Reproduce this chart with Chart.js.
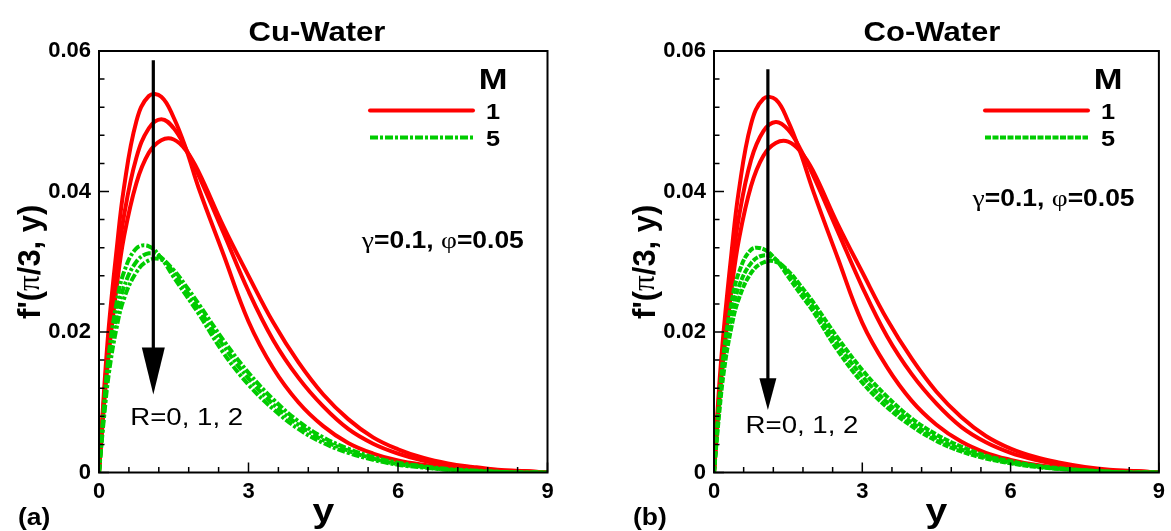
<!DOCTYPE html>
<html>
<head>
<meta charset="utf-8">
<script src="https://cdn.jsdelivr.net/npm/chart.js@4.4.0/dist/chart.umd.min.js"></script>
<style>
  body { margin: 0; background: #fff; width: 1171px; height: 531px; position: relative; overflow: hidden; }
  canvas { position: absolute; top: 0; }
</style>
</head>
<body>
<canvas id="cuChart" width="580" height="531" style="left:0"></canvas>
<canvas id="coChart" width="556" height="531" style="left:615px"></canvas>
<script>
// y positions shared by every curve
var yGrid = [0, 0.1, 0.2, 0.35, 0.5, 0.75, 1, 1.25, 1.5, 1.75, 2, 2.5, 3, 3.5, 4, 4.5, 5, 5.5, 6, 6.5, 7, 7.5, 8, 8.5, 9];

// Cu-water, M = 1 (R = 0, 1, 2)
var cuM1R0 = [0, 0.0115, 0.0210, 0.0315, 0.0405, 0.0500, 0.0536, 0.0535, 0.0505, 0.0460, 0.0405, 0.0310, 0.0215, 0.0148, 0.0100, 0.0066, 0.0042, 0.0027, 0.0017, 0.0011, 0.0007, 0.0004, 0.0002, 0.0001, 0];
var cuM1R1 = [0, 0.0105, 0.0190, 0.0285, 0.0365, 0.0448, 0.0490, 0.0503, 0.0490, 0.0460, 0.0423, 0.0341, 0.0258, 0.0188, 0.0135, 0.0094, 0.0062, 0.0041, 0.0027, 0.0017, 0.0010, 0.0006, 0.0003, 0.0002, 0];
var cuM1R2 = [0, 0.0095, 0.0172, 0.0262, 0.0335, 0.0412, 0.0455, 0.0473, 0.0474, 0.0458, 0.0428, 0.0350, 0.0280, 0.0213, 0.0157, 0.0111, 0.0076, 0.0050, 0.0033, 0.0021, 0.0013, 0.0008, 0.0004, 0.0002, 0];
// Cu-water, M = 5
var cuM5R0 = [0, 0.0095, 0.0170, 0.0240, 0.0285, 0.0319, 0.0322, 0.0305, 0.0278, 0.0252, 0.0226, 0.0170, 0.0125, 0.0090, 0.0062, 0.0042, 0.0028, 0.0018, 0.0011, 0.0007, 0.0004, 0.0002, 0.0001, 0, 0];
var cuM5R1 = [0, 0.0085, 0.0155, 0.0222, 0.0264, 0.0300, 0.0312, 0.0306, 0.0284, 0.0259, 0.0233, 0.0180, 0.0134, 0.0097, 0.0068, 0.0046, 0.0031, 0.0020, 0.0012, 0.0008, 0.0004, 0.0002, 0.0001, 0, 0];
var cuM5R2 = [0, 0.0078, 0.0142, 0.0205, 0.0247, 0.0285, 0.0302, 0.0303, 0.0288, 0.0265, 0.0240, 0.0188, 0.0142, 0.0104, 0.0073, 0.0050, 0.0034, 0.0022, 0.0014, 0.0009, 0.0005, 0.0003, 0.0001, 0, 0];

// Co-water, M = 1
var coM1R0 = [0, 0.0118, 0.0205, 0.0310, 0.0400, 0.0496, 0.0532, 0.0531, 0.0500, 0.0455, 0.0402, 0.0306, 0.0213, 0.0150, 0.0102, 0.0068, 0.0044, 0.0028, 0.0018, 0.0011, 0.0007, 0.0004, 0.0002, 0.0001, 0];
var coM1R1 = [0, 0.0106, 0.0188, 0.0282, 0.0362, 0.0445, 0.0486, 0.0499, 0.0488, 0.0460, 0.0424, 0.0344, 0.0264, 0.0194, 0.0140, 0.0098, 0.0065, 0.0043, 0.0028, 0.0018, 0.0011, 0.0006, 0.0003, 0.0002, 0];
var coM1R2 = [0, 0.0096, 0.0170, 0.0258, 0.0330, 0.0408, 0.0451, 0.0469, 0.0471, 0.0457, 0.0430, 0.0354, 0.0285, 0.0218, 0.0162, 0.0115, 0.0079, 0.0052, 0.0034, 0.0022, 0.0014, 0.0008, 0.0004, 0.0002, 0];
// Co-water, M = 5
var coM5R0 = [0, 0.0098, 0.0172, 0.0240, 0.0284, 0.0317, 0.0318, 0.0303, 0.0279, 0.0254, 0.0230, 0.0174, 0.0128, 0.0093, 0.0066, 0.0045, 0.0030, 0.0020, 0.0013, 0.0008, 0.0005, 0.0003, 0.0001, 0, 0];
var coM5R1 = [0, 0.0088, 0.0157, 0.0222, 0.0264, 0.0298, 0.0309, 0.0303, 0.0284, 0.0260, 0.0236, 0.0183, 0.0137, 0.0100, 0.0071, 0.0049, 0.0033, 0.0022, 0.0014, 0.0009, 0.0005, 0.0003, 0.0001, 0, 0];
var coM5R2 = [0, 0.0080, 0.0144, 0.0206, 0.0247, 0.0284, 0.0299, 0.0300, 0.0287, 0.0266, 0.0243, 0.0192, 0.0146, 0.0108, 0.0077, 0.0054, 0.0037, 0.0024, 0.0016, 0.0010, 0.0006, 0.0003, 0.0001, 0, 0];

var xTicks = [0, 3, 6, 9];
var yTicks = [0, 0.02, 0.04, 0.06];
var legendLabels = ['1', '5'];

var RED = '#ff0000';
var GREEN = '#00cc00';
var SANS = '"Liberation Sans", Arial, sans-serif';
var SERIF = '"Liberation Serif", "Times New Roman", serif';
var WIDE = 1.15; // text in this figure is drawn a bit wide

// write a row of text pieces (each with its own font), stretched horizontally
function drawRuns(ctx, runs, x, y, align) {
  ctx.save();
  ctx.textBaseline = 'alphabetic';
  ctx.textAlign = 'left';
  var total = 0;
  runs.forEach(function (r) { ctx.font = r[1]; total += ctx.measureText(r[0]).width; });
  var start = align === 'center' ? -total / 2 : (align === 'right' ? -total : 0);
  ctx.translate(x, y);
  ctx.scale(WIDE, 1);
  var cx = start;
  runs.forEach(function (r) {
    ctx.font = r[1];
    ctx.fillText(r[0], cx, 0);
    cx += ctx.measureText(r[0]).width;
  });
  ctx.restore();
}

// frame, inward ticks, arrow, legend and labels
var panelDecor = {
  id: 'panelDecor',
  afterDatasetsDraw: function (chart, args, o) {
    var ctx = chart.ctx, a = chart.chartArea;
    var xs = chart.scales.x, ys = chart.scales.y;
    var i, len;
    ctx.save();
    ctx.fillStyle = '#000';
    ctx.strokeStyle = '#000';

    // frame
    ctx.lineWidth = 2;
    ctx.strokeRect(a.left, a.top, a.right - a.left, a.bottom - a.top);

    // major and minor ticks pointing into the plot
    ctx.lineWidth = 1.5;
    ctx.beginPath();
    for (i = 0; i <= 15; i++) {
      var py = ys.getPixelForValue(i * 0.004);
      len = i % 5 === 0 ? 10 : 5.5;
      ctx.moveTo(a.left, py);
      ctx.lineTo(a.left + len, py);
    }
    for (i = 0; i <= 15; i++) {
      var px = xs.getPixelForValue(i * 0.6);
      len = i % 5 === 0 ? 10 : 5.5;
      ctx.moveTo(px, a.bottom);
      ctx.lineTo(px, a.bottom - len);
    }
    ctx.stroke();

    // arrow across the R curves
    var ax = xs.getPixelForValue(o.arrow.x);
    var aTop = ys.getPixelForValue(o.arrow.top);
    var aBase = ys.getPixelForValue(o.arrow.base);
    var aTip = ys.getPixelForValue(o.arrow.tip);
    ctx.lineWidth = 3.2;
    ctx.beginPath();
    ctx.moveTo(ax, aTop);
    ctx.lineTo(ax, aBase + 2);
    ctx.stroke();
    ctx.beginPath();
    ctx.moveTo(ax - o.arrow.half, aBase);
    ctx.lineTo(ax + o.arrow.half, aBase);
    ctx.lineTo(ax, aTip);
    ctx.closePath();
    ctx.fill();

    // legend
    var lx = a.left + 271, lw = 103;
    drawRuns(ctx, [['M', 'bold 30px ' + SANS]], a.left + 394, a.top + 38, 'center');
    ctx.lineWidth = 4;
    ctx.lineCap = 'round';
    ctx.strokeStyle = RED;
    ctx.beginPath();
    ctx.moveTo(lx, a.top + 59.5);
    ctx.lineTo(lx + lw, a.top + 59.5);
    ctx.stroke();
    ctx.lineCap = 'butt';
    ctx.strokeStyle = GREEN;
    ctx.setLineDash(o.greenDash);
    ctx.beginPath();
    ctx.moveTo(lx, a.top + 86.5);
    ctx.lineTo(lx + lw, a.top + 86.5);
    ctx.stroke();
    ctx.setLineDash([]);
    drawRuns(ctx, [[legendLabels[0], 'bold 22px ' + SANS]], a.left + 394, a.top + 67.5, 'center');
    drawRuns(ctx, [[legendLabels[1], 'bold 22px ' + SANS]], a.left + 394, a.top + 94.5, 'center');

    // in-plot notes
    drawRuns(ctx, [['R=0, 1, 2', '24px ' + SANS]],
      xs.getPixelForValue(o.rLabel[0]), ys.getPixelForValue(o.rLabel[1]), 'center');
    drawRuns(ctx, [['\u03b3', '24px ' + SERIF], ['=0.1, ', 'bold 23px ' + SANS],
                   ['\u03c6', '24px ' + SERIF], ['=0.05', 'bold 23px ' + SANS]],
      xs.getPixelForValue(o.propLabel[0]), ys.getPixelForValue(o.propLabel[1]), 'center');

    // titles
    drawRuns(ctx, [[o.title, 'bold 27px ' + SANS]], a.left + 218, 41, 'center');
    drawRuns(ctx, [['y', 'bold 34px ' + SANS]], (a.left + a.right) / 2, 522, 'center');
    drawRuns(ctx, [[o.tag, 'bold 23px ' + SANS]], 18, 525, 'left');

    // rotated y title
    ctx.save();
    ctx.translate(a.left - 68, (a.top + a.bottom) / 2);
    ctx.rotate(-Math.PI / 2);
    var yRuns = [["f'(", 'bold 31px ' + SANS], ['\u03c0', '31px ' + SERIF], ['/3, y)', 'bold 31px ' + SANS]];
    var tw = 0;
    yRuns.forEach(function (r) { ctx.font = r[1]; tw += ctx.measureText(r[0]).width; });
    ctx.textBaseline = 'middle';
    var cx = -tw / 2;
    yRuns.forEach(function (r) { ctx.font = r[1]; ctx.fillText(r[0], cx, 0); cx += ctx.measureText(r[0]).width; });
    ctx.restore();

    ctx.restore();
  }
};

function series(values, color, dash) {
  return {
    data: yGrid.map(function (y, i) { return { x: y, y: values[i] }; }),
    borderColor: color,
    borderWidth: 4,
    borderDash: dash,
    pointRadius: 0,
    tension: 0.4,
    fill: false
  };
}

function buildPanel(p) {
  var tickFont = { family: SANS, size: 22, weight: 'bold' };
  var datasets = [];
  p.m5.forEach(function (v) { datasets.push(series(v, GREEN, p.greenDash)); });
  p.m1.forEach(function (v) { datasets.push(series(v, RED, [])); });

  return new Chart(document.getElementById(p.id), {
    type: 'line',
    data: { datasets: datasets },
    plugins: [panelDecor],
    options: {
      responsive: false,
      animation: false,
      devicePixelRatio: 1,
      layout: { padding: { top: 51, right: p.padRight, bottom: 0, left: 0 } },
      plugins: {
        legend: { display: false },
        tooltip: { enabled: false },
        panelDecor: {
          title: p.title, tag: p.tag, arrow: p.arrow, greenDash: p.greenDash,
          rLabel: p.rLabel, propLabel: p.propLabel
        }
      },
      scales: {
        x: {
          type: 'linear', min: 0, max: 9,
          afterBuildTicks: function (s) { s.ticks = xTicks.map(function (v) { return { value: v }; }); },
          ticks: { padding: 6, font: tickFont, color: '#000', maxRotation: 0,
                   callback: function (v) { return String(v); } },
          grid: { display: false, drawTicks: false },
          border: { display: false },
          afterFit: function (s) { s.height = 58.5; }
        },
        y: {
          type: 'linear', min: 0, max: 0.06,
          afterBuildTicks: function (s) { s.ticks = yTicks.map(function (v) { return { value: v }; }); },
          ticks: { padding: 8, font: tickFont, color: '#000',
                   callback: function (v) { return v === 0 ? '0' : v.toFixed(2); } },
          grid: { display: false, drawTicks: false },
          border: { display: false },
          afterFit: function (s) { s.width = 99; }
        }
      }
    }
  });
}

buildPanel({
  id: 'cuChart', title: 'Cu-Water', tag: '(a)',
  m1: [cuM1R0, cuM1R1, cuM1R2], m5: [cuM5R0, cuM5R1, cuM5R2],
  greenDash: [8, 2, 3, 2],
  arrow: { x: 1.09, top: 0.0587, base: 0.0178, tip: 0.0111, half: 11.5 },
  rLabel: [1.76, 0.0068], propLabel: [6.9, 0.0319],
  padRight: 32.5
});

buildPanel({
  id: 'coChart', title: 'Co-Water', tag: '(b)',
  m1: [coM1R0, coM1R1, coM1R2], m5: [coM5R0, coM5R1, coM5R2],
  greenDash: [6, 1.5],
  arrow: { x: 1.09, top: 0.0574, base: 0.0134, tip: 0.0089, half: 8.5 },
  rLabel: [1.78, 0.0056], propLabel: [6.87, 0.0379],
  padRight: 8
});
</script>
</body>
</html>
